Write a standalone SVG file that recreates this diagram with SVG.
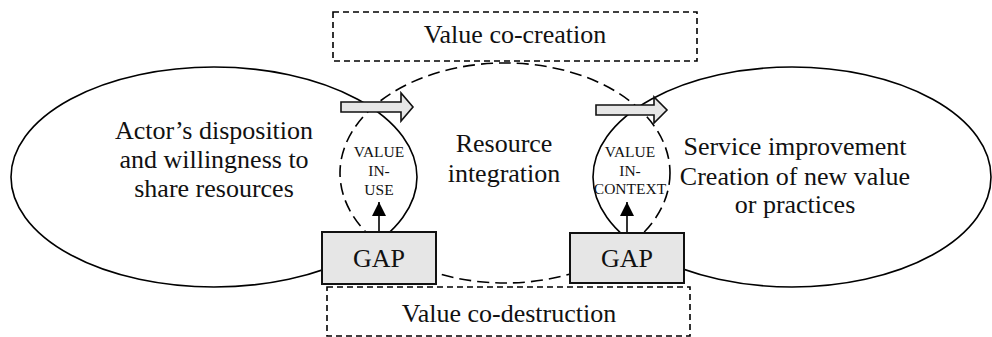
<svg xmlns="http://www.w3.org/2000/svg" width="992" height="337" viewBox="0 0 992 337">
<defs>
<style>
.t{font-family:"Liberation Serif","Times New Roman",serif;fill:#111;text-anchor:middle}
.big{font-size:26px}
.sm{font-size:15.5px}
.solid{fill:none;stroke:#000;stroke-width:1.6}
.dash{fill:none;stroke:#000;stroke-width:1.6;stroke-dasharray:12 6}
.box{fill:none;stroke:#000;stroke-width:1.6;stroke-dasharray:6 4}
.gap{fill:#e6e6e6;stroke:#111;stroke-width:2}
.blk{fill:#e6e6e6;stroke:#111;stroke-width:1.6}
</style>
<marker id="ah" viewBox="0 0 10 10" refX="10" refY="5" markerWidth="15" markerHeight="14" markerUnits="userSpaceOnUse" orient="auto">
<path d="M0,0 L10,5 L0,10 z" fill="#000"/>
</marker>
</defs>
<rect width="992" height="337" fill="#fff"/>
<g id="value-co-creation">
<rect x="333" y="12" width="364" height="49" class="box"/>
<text x="515" y="43" class="t big">Value co-creation</text>
</g>
<g id="value-co-destruction">
<rect x="327" y="287" width="363" height="49" class="box"/>
<text x="509" y="322" class="t big">Value co-destruction</text>
</g>
<g id="actor">
<ellipse cx="214" cy="177" rx="203" ry="110" class="solid"/>
<text class="t big"><tspan x="214" y="139">Actor’s disposition</tspan><tspan x="214" y="168">and willingness to</tspan><tspan x="214" y="197">share resources</tspan></text>
</g>
<g id="resource-integration">
<ellipse cx="505" cy="173" rx="165" ry="110" class="dash"/>
<text class="t big"><tspan x="504" y="152">Resource</tspan><tspan x="504" y="182">integration</tspan></text>
</g>
<g id="service-improvement">
<ellipse cx="792" cy="177" rx="199" ry="110" class="solid"/>
<text class="t big"><tspan x="795" y="155">Service improvement</tspan><tspan x="795" y="185">Creation of new value</tspan><tspan x="795" y="213">or practices</tspan></text>
</g>
<g id="value-in-use">
<text class="t sm"><tspan x="379" y="157">VALUE</tspan><tspan x="379" y="176">IN-</tspan><tspan x="379" y="195">USE</tspan></text>
</g>
<g id="value-in-context">
<text class="t sm"><tspan x="630" y="157">VALUE</tspan><tspan x="630" y="176">IN-</tspan><tspan x="630" y="194">CONTEXT</tspan></text>
</g>
<g id="connectors">
<path d="M341,102 H401 V93 L413,107 L401,121 V112 H341 Z" class="blk"/>
<path d="M596,105 H654 V97 L667,110 L654,123 V115 H596 Z" class="blk"/>
<line x1="379" y1="233" x2="379" y2="202" stroke="#000" stroke-width="1.6" marker-end="url(#ah)"/>
<line x1="627" y1="233" x2="627" y2="202" stroke="#000" stroke-width="1.6" marker-end="url(#ah)"/>
</g>
<g id="gap-left">
<rect x="322" y="232" width="114" height="52" class="gap"/>
<text x="379" y="267" class="t big">GAP</text>
</g>
<g id="gap-right">
<rect x="570" y="233" width="114" height="50" class="gap"/>
<text x="627" y="267" class="t big">GAP</text>
</g>
</svg>
